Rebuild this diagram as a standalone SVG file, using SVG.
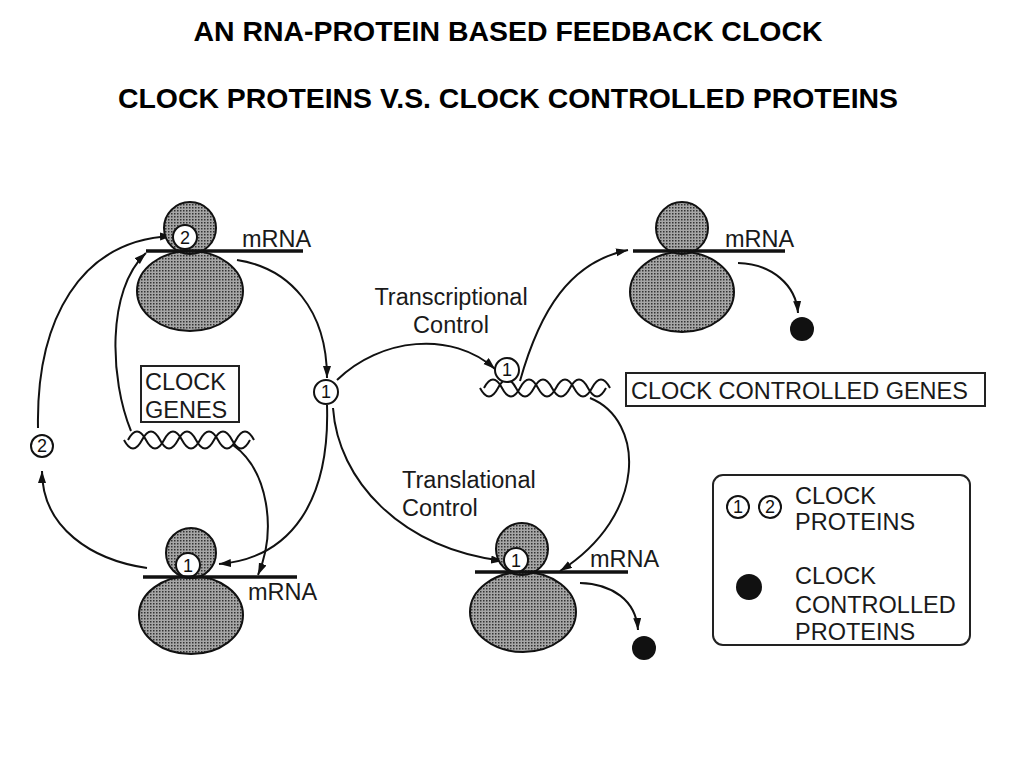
<svg xmlns="http://www.w3.org/2000/svg" width="1024" height="768" viewBox="0 0 1024 768">
<defs>
<pattern id="shade" width="3" height="3" patternUnits="userSpaceOnUse">
<rect width="3" height="3" fill="#a6a6a6"/>
<rect width="1.5" height="1.5" fill="#333"/>
</pattern>
<marker id="ah" markerWidth="13" markerHeight="9" refX="12" refY="4" orient="auto" markerUnits="userSpaceOnUse">
<path d="M0,0 L12,4 L0,8 z" fill="#111"/>
</marker>
</defs>
<style>
.t{font-family:"Liberation Sans",Arial,sans-serif;font-size:23.5px;fill:#1a1a1a}
.title{font-family:"Liberation Sans",Arial,sans-serif;font-size:28px;font-weight:bold;fill:#000}
.sub{fill:url(#shade);stroke:#111;stroke-width:2}
.rna{stroke:#111;stroke-width:3.5}
.pc{fill:#fff;stroke:#111;stroke-width:2}
.dg{font-family:"Liberation Sans",Arial,sans-serif;font-size:18px;fill:#111;text-anchor:middle}
.box{fill:#fff;stroke:#222;stroke-width:2}
.dna{fill:none;stroke:#111;stroke-width:2}
.c{fill:none;stroke:#111;stroke-width:2;marker-end:url(#ah)}
.dot{fill:#111}
</style>
<rect width="1024" height="768" fill="#fff"/>
<g id="title">
<text class="title" x="508" y="41" text-anchor="middle" textLength="629" lengthAdjust="spacingAndGlyphs">AN RNA-PROTEIN BASED FEEDBACK CLOCK</text>
<text class="title" x="508" y="108" text-anchor="middle" textLength="780" lengthAdjust="spacingAndGlyphs">CLOCK PROTEINS V.S. CLOCK CONTROLLED PROTEINS</text>
</g>
<g id="connectors">
<path class="c" d="M38,428 C36,320 80,240 172,236"/>
<path class="c" d="M131,431 C110,380 106,290 146,253"/>
<path class="c" d="M237,260 C290,268 327,310 327,378"/>
<path class="c" d="M327,405 C330,500 292,558 219,564"/>
<path class="c" d="M233,445 C268,470 277,530 258,575"/>
<path class="c" d="M147,568 C92,560 42,528 42,471"/>
<path class="c" d="M337,380 C380,338 452,330 495,369"/>
<path class="c" d="M520,381 C540,310 570,262 628,250"/>
<path class="c" d="M333,408 C338,480 400,548 503,561"/>
<path class="c" d="M590,398 C645,420 648,515 560,571"/>
<path class="c" d="M738,263 C772,264 796,285 798,313"/>
<path class="c" d="M580,583 C612,584 636,600 638,630"/>
</g>
<g id="ribosome-top-left">
<ellipse class="sub" cx="190" cy="291" rx="53" ry="40"/>
<circle class="sub" cx="190" cy="228" r="26"/>
<circle class="pc" cx="185" cy="237" r="12"/>
<text class="dg" x="185" y="244">2</text>
<line class="rna" x1="146" y1="251" x2="303" y2="251"/>
<text class="t" x="242" y="247">mRNA</text>
</g>
<g id="ribosome-bottom-left">
<ellipse class="sub" cx="191" cy="615" rx="52" ry="39"/>
<circle class="sub" cx="191" cy="553" r="25"/>
<circle class="pc" cx="188" cy="565" r="12"/>
<text class="dg" x="188" y="572">1</text>
<line class="rna" x1="143" y1="577" x2="297" y2="577"/>
<text class="t" x="248" y="600">mRNA</text>
</g>
<g id="ribosome-top-right">
<ellipse class="sub" cx="682" cy="292" rx="52" ry="40"/>
<circle class="sub" cx="682" cy="228" r="26"/>
<line class="rna" x1="633" y1="251" x2="785" y2="251"/>
<text class="t" x="725" y="247">mRNA</text>
</g>
<g id="ribosome-bottom-mid">
<ellipse class="sub" cx="523" cy="612" rx="53" ry="40"/>
<circle class="sub" cx="522" cy="549" r="26"/>
<circle class="pc" cx="516" cy="560" r="12"/>
<text class="dg" x="516" y="567">1</text>
<line class="rna" x1="475" y1="572" x2="628" y2="572"/>
<text class="t" x="590" y="567">mRNA</text>
</g>
<g id="protein-2-free">
<circle class="pc" cx="42" cy="446" r="11"/>
<text class="dg" x="42" y="452">2</text>
</g>
<g id="protein-1-free">
<circle class="pc" cx="326" cy="392" r="12"/>
<text class="dg" x="326" y="398">1</text>
</g>
<g id="clock-genes">
<rect class="box" x="141" y="366" width="98" height="56"/>
<text class="t" x="145" y="390">CLOCK</text>
<text class="t" x="145" y="418">GENES</text>
<path class="dna" d="M128,440 q9,-17 18,0 t18,0 t18,0 t18,0 t18,0 t18,0 t18,0"/>
<path class="dna" d="M124,440 q9,17 18,0 t18,0 t18,0 t18,0 t18,0 t18,0 t18,0"/>
</g>
<g id="clock-controlled-genes">
<rect class="box" x="626" y="373" width="359" height="33"/>
<text class="t" x="631" y="399">CLOCK CONTROLLED GENES</text>
<path class="dna" d="M484,388 q9,-17 18,0 t18,0 t18,0 t18,0 t18,0 t18,0 t18,0"/>
<path class="dna" d="M480,388 q9,17 18,0 t18,0 t18,0 t18,0 t18,0 t18,0 t18,0"/>
<circle class="pc" cx="507" cy="370" r="12"/>
<text class="dg" x="507" y="376">1</text>
</g>
<g id="labels">
<text class="t" x="451" y="305" text-anchor="middle">Transcriptional</text>
<text class="t" x="451" y="333" text-anchor="middle">Control</text>
<text class="t" x="402" y="488">Translational</text>
<text class="t" x="402" y="516">Control</text>
</g>
<g id="product-top">
<circle class="dot" cx="802" cy="329" r="12"/>
</g>
<g id="product-bottom">
<circle class="dot" cx="644" cy="648" r="12"/>
</g>
<g id="legend">
<rect class="box" x="713" y="475" width="257" height="170" rx="10"/>
<circle class="pc" cx="738" cy="507" r="11"/>
<text class="dg" x="738" y="513">1</text>
<circle class="pc" cx="770" cy="507" r="11"/>
<text class="dg" x="770" y="513">2</text>
<text class="t" x="795" y="504">CLOCK</text>
<text class="t" x="795" y="530">PROTEINS</text>
<circle class="dot" cx="749" cy="587" r="13"/>
<text class="t" x="795" y="584">CLOCK</text>
<text class="t" x="795" y="613">CONTROLLED</text>
<text class="t" x="795" y="640">PROTEINS</text>
</g>
</svg>
